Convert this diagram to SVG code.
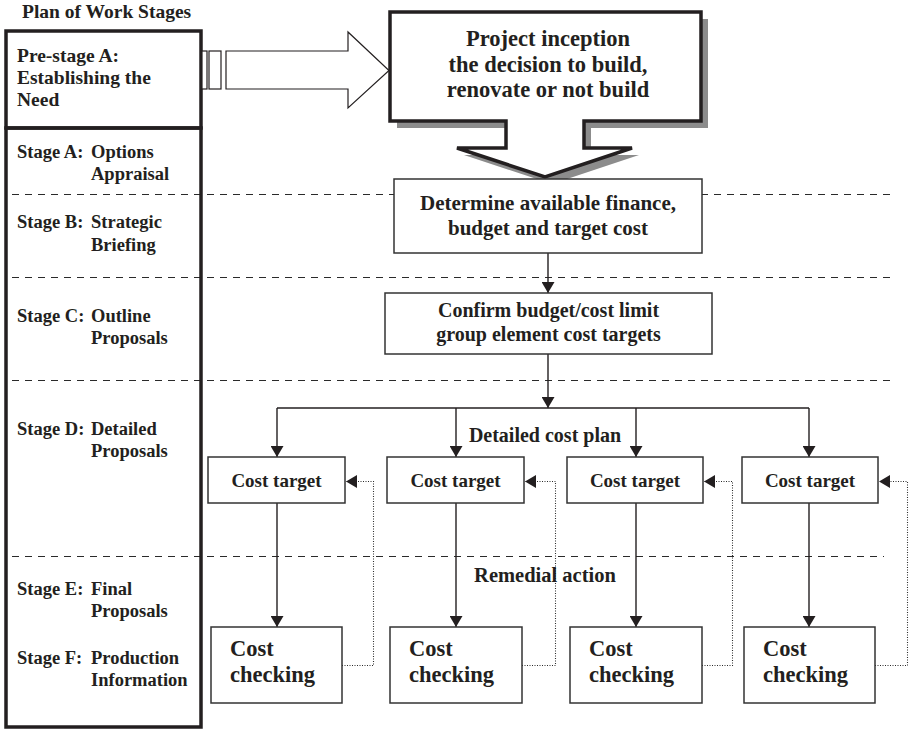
<svg xmlns="http://www.w3.org/2000/svg" width="912" height="731" viewBox="0 0 912 731">
  <defs>
    <style>
      .t { font-family: "Liberation Serif", "Times New Roman", serif; font-weight: bold; fill: #231f20; }
      .stage { font-size: 18.5px; }
      .pre { font-size: 19.5px; }
      .c { text-anchor: middle; }
      .box { fill: #fff; stroke: #333; stroke-width: 1.5; }
      .frame { fill: none; stroke: #231f20; stroke-width: 3.5; }
      .dash { fill: none; stroke: #2a2a2a; stroke-width: 1.1; stroke-dasharray: 7 6; }
      .line { fill: none; stroke: #231f20; stroke-width: 1.4; }
      .dot { fill: none; stroke: #2a2a2a; stroke-width: 1.1; stroke-dasharray: 1 1.5; }
      .hollow { fill: #fff; stroke: #231f20; stroke-width: 1.2; }
    </style>
    <marker id="head" markerUnits="userSpaceOnUse" markerWidth="11" markerHeight="13" refX="11" refY="6.5" orient="auto">
      <path d="M0,0 L11,6.5 L0,13 Z" fill="#231f20"/>
    </marker>
  </defs>

  <!-- stage divider lines -->
  <g id="dividers">
    <line class="dash" x1="12" y1="194.5" x2="895" y2="194.5"/>
    <line class="dash" x1="12" y1="277.5" x2="895" y2="277.5"/>
    <line class="dash" x1="12" y1="380.5" x2="895" y2="380.5"/>
    <line class="dash" x1="12" y1="556.5" x2="884" y2="556.5"/>
  </g>

  <!-- plan of work stages column -->
  <g id="stages">
    <text class="t pre" x="22" y="18">Plan of Work Stages</text>
    <rect class="frame" x="6" y="31" width="195" height="97"/>
    <rect class="frame" x="6" y="128" width="195" height="599"/>
    <text class="t pre" x="17" y="62">Pre-stage A:</text>
    <text class="t pre" x="17" y="84">Establishing the</text>
    <text class="t pre" x="17" y="106">Need</text>

    <text class="t stage" x="17" y="158">Stage A:</text>
    <text class="t stage" x="91" y="158">Options</text>
    <text class="t stage" x="91" y="180">Appraisal</text>

    <text class="t stage" x="17" y="228">Stage B:</text>
    <text class="t stage" x="91" y="228">Strategic</text>
    <text class="t stage" x="91" y="251">Briefing</text>

    <text class="t stage" x="17" y="322">Stage C:</text>
    <text class="t stage" x="91" y="322">Outline</text>
    <text class="t stage" x="91" y="344">Proposals</text>

    <text class="t stage" x="17" y="435">Stage D:</text>
    <text class="t stage" x="91" y="435">Detailed</text>
    <text class="t stage" x="91" y="457">Proposals</text>

    <text class="t stage" x="17" y="595">Stage E:</text>
    <text class="t stage" x="91" y="595">Final</text>
    <text class="t stage" x="91" y="617">Proposals</text>

    <text class="t stage" x="17" y="664">Stage F:</text>
    <text class="t stage" x="91" y="664">Production</text>
    <text class="t stage" x="91" y="686">Information</text>
  </g>

  <!-- connectors -->
  <g id="connectors">
    <!-- block arrow from pre-stage to inception -->
    <rect class="hollow" x="202" y="51" width="5" height="38"/>
    <rect class="hollow" x="209" y="51" width="12" height="38"/>
    <path class="hollow" d="M226,51 H348 V32 L389,70.5 L348,108 V89 H226 Z"/>

    <path class="line" d="M548,253 V293" marker-end="url(#head)"/>
    <path class="line" d="M548,354 V408" marker-end="url(#head)"/>
    <path class="line" d="M277,408 H809"/>
    <path class="line" d="M277,408 V457" marker-end="url(#head)"/>
    <path class="line" d="M456,408 V457" marker-end="url(#head)"/>
    <path class="line" d="M636,408 V457" marker-end="url(#head)"/>
    <path class="line" d="M809,408 V457" marker-end="url(#head)"/>

    <path class="line" d="M277,503 V627" marker-end="url(#head)"/>
    <path class="line" d="M456,503 V627" marker-end="url(#head)"/>
    <path class="line" d="M636,503 V627" marker-end="url(#head)"/>
    <path class="line" d="M809,503 V627" marker-end="url(#head)"/>

    <!-- remedial feedback loops -->
    <path class="dot" d="M342,665.5 H373.5 V481.5 H346" marker-end="url(#head)"/>
    <path class="dot" d="M522,665.5 H555.5 V481.5 H525" marker-end="url(#head)"/>
    <path class="dot" d="M702,665.5 H732.5 V481.5 H704" marker-end="url(#head)"/>
    <path class="dot" d="M875,665.5 H907.5 V481.5 H879" marker-end="url(#head)"/>

    <text class="t c" x="545" y="442" font-size="20">Detailed cost plan</text>
    <text class="t c" x="545" y="582" font-size="20.5">Remedial action</text>
  </g>

  <!-- inception callout -->
  <g id="inception">
    <path d="M390,12 H701 V121 H584 V148 H632 L545,177 L457,148 H506 V121 H390 Z" fill="#8c8c8c" transform="translate(7,7)"/>
    <path d="M390,12 H701 V121 H584 V148 H632 L545,177 L457,148 H506 V121 H390 Z" fill="#fff" stroke="#231f20" stroke-width="3.5"/>
    <text class="t c" x="548" y="46" font-size="22.5">Project inception</text>
    <text class="t c" x="548" y="72" font-size="22.5">the decision to build,</text>
    <text class="t c" x="548" y="97" font-size="22.5">renovate or not build</text>
  </g>

  <g id="finance">
    <rect class="box" x="394" y="179" width="308" height="74"/>
    <text class="t c" x="548" y="210" font-size="21">Determine available finance,</text>
    <text class="t c" x="548" y="235" font-size="21">budget and target cost</text>
  </g>

  <g id="budget">
    <rect class="box" x="385" y="293" width="327" height="61"/>
    <text class="t c" x="548.5" y="317" font-size="20">Confirm budget/cost limit</text>
    <text class="t c" x="548.5" y="341" font-size="20">group element cost targets</text>
  </g>

  <g id="target-1">
    <rect class="box" x="208" y="457" width="137" height="46"/>
    <text class="t c" x="276.5" y="487" font-size="19">Cost target</text>
  </g>
  <g id="target-2">
    <rect class="box" x="387" y="457" width="137" height="46"/>
    <text class="t c" x="455.5" y="487" font-size="19">Cost target</text>
  </g>
  <g id="target-3">
    <rect class="box" x="567" y="457" width="136" height="46"/>
    <text class="t c" x="635" y="487" font-size="19">Cost target</text>
  </g>
  <g id="target-4">
    <rect class="box" x="742" y="457" width="136" height="46"/>
    <text class="t c" x="810" y="487" font-size="19">Cost target</text>
  </g>

  <g id="check-1">
    <rect class="box" x="211" y="627" width="131" height="76"/>
    <text class="t" x="230" y="656" font-size="22.5">Cost</text>
    <text class="t" x="230" y="682" font-size="22.5">checking</text>
  </g>
  <g id="check-2">
    <rect class="box" x="390" y="627" width="132" height="76"/>
    <text class="t" x="409" y="656" font-size="22.5">Cost</text>
    <text class="t" x="409" y="682" font-size="22.5">checking</text>
  </g>
  <g id="check-3">
    <rect class="box" x="570" y="627" width="132" height="76"/>
    <text class="t" x="589" y="656" font-size="22.5">Cost</text>
    <text class="t" x="589" y="682" font-size="22.5">checking</text>
  </g>
  <g id="check-4">
    <rect class="box" x="744" y="627" width="131" height="76"/>
    <text class="t" x="763" y="656" font-size="22.5">Cost</text>
    <text class="t" x="763" y="682" font-size="22.5">checking</text>
  </g>
</svg>
